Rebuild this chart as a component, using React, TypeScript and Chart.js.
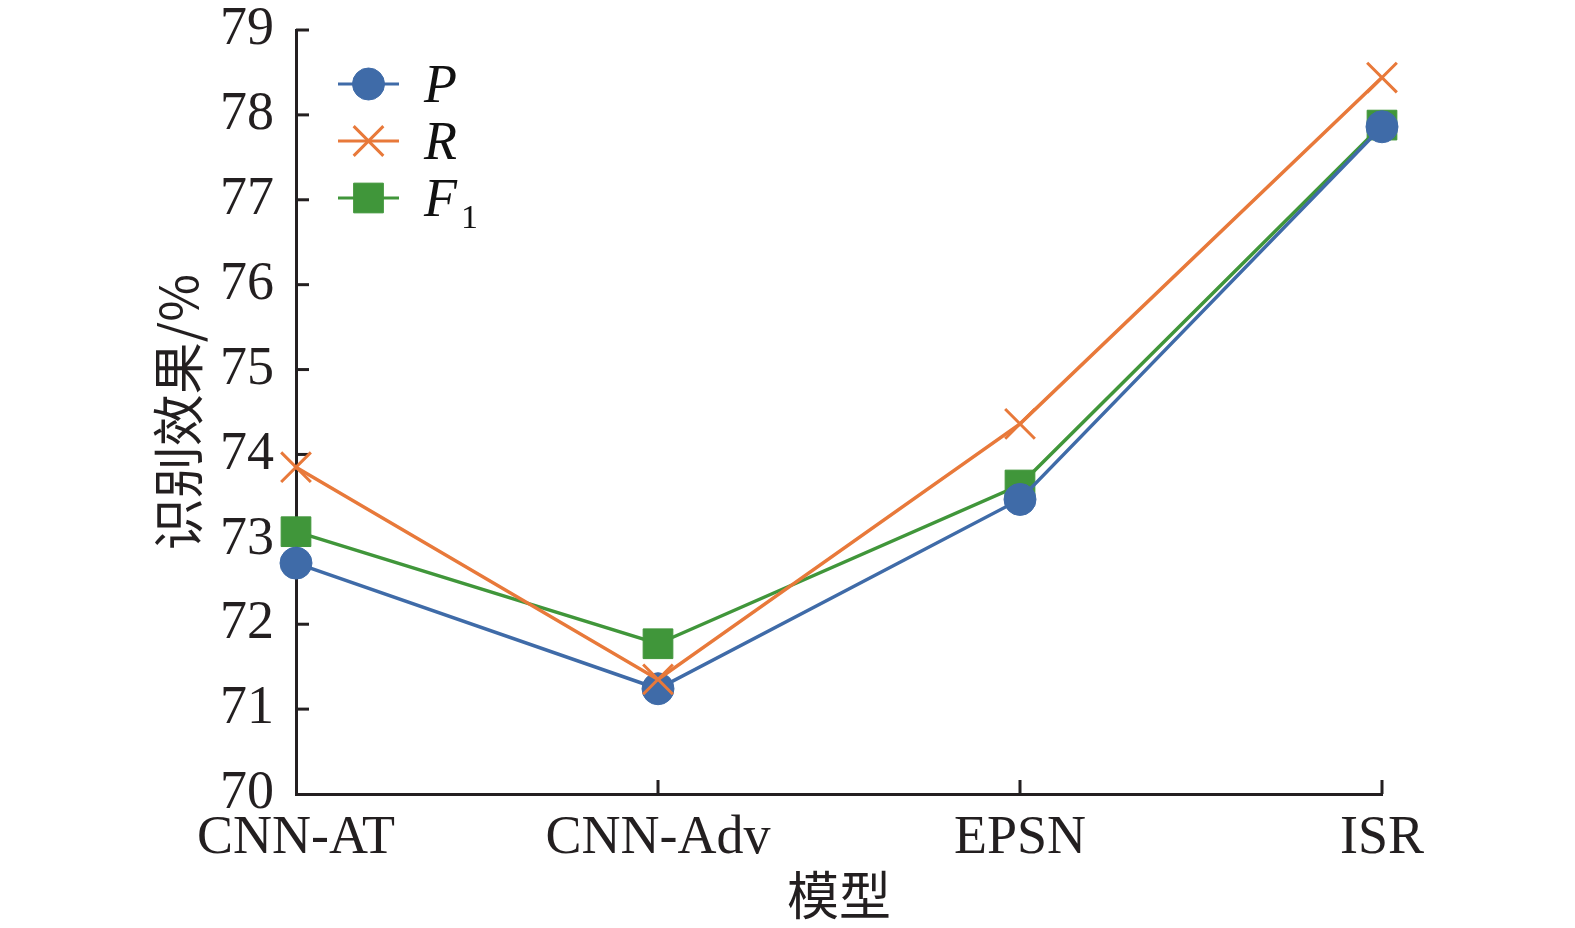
import { useEffect, useRef } from "react"
import { Chart, registerables } from "chart.js"

Chart.register(...registerables)

const models = ["CNN-AT", "CNN-Adv", "EPSN", "ISR"]
const valuesP = [72.72, 71.24, 73.47, 77.86]
const valuesR = [73.85, 71.35, 74.36, 78.44]
const valuesF1 = [73.09, 71.77, 73.64, 77.88]

const yTitle = "识别效果/%"
const xTitle = "模型"

const BLUE = "#3F6BA8"
const ORANGE = "#E8793A"
const GREEN = "#40963A"
const INK = "#231F20"
const SERIF = "'Liberation Serif', 'Times New Roman', serif"
const CJK = "'Noto Sans CJK SC', sans-serif"

// ticks that point into the plot area
const innerTicks = {
  id: "innerTicks",
  beforeDatasetsDraw(chart: Chart) {
    const { ctx, chartArea, scales } = chart
    ctx.save()
    ctx.strokeStyle = INK
    ctx.lineWidth = 3
    const y = scales.y
    for (let i = 1; i < y.ticks.length; i++) {
      const py = y.getPixelForTick(i)
      ctx.beginPath()
      ctx.moveTo(chartArea.left, py)
      ctx.lineTo(chartArea.left + 13, py)
      ctx.stroke()
    }
    const x = scales.x
    for (let i = 1; i < x.ticks.length; i++) {
      const px = x.getPixelForTick(i)
      ctx.beginPath()
      ctx.moveTo(px, chartArea.bottom)
      ctx.lineTo(px, chartArea.bottom - 14)
      ctx.stroke()
    }
    ctx.restore()
  },
}

function drawMarker(ctx: CanvasRenderingContext2D, style: string, r: number, x: number, y: number) {
  ctx.beginPath()
  if (style === "circle") {
    ctx.arc(x, y, r, 0, Math.PI * 2)
    ctx.fill()
    ctx.stroke()
  } else if (style === "rect") {
    const s = r * Math.SQRT1_2
    ctx.rect(x - s, y - s, 2 * s, 2 * s)
    ctx.fill()
    ctx.stroke()
  } else {
    const s = r * Math.SQRT1_2
    ctx.moveTo(x - s, y - s)
    ctx.lineTo(x + s, y + s)
    ctx.moveTo(x - s, y + s)
    ctx.lineTo(x + s, y - s)
    ctx.stroke()
  }
}

// legend with a line through each marker and an F with subscript 1
const lineLegend = {
  id: "lineLegend",
  afterDraw(chart: Chart) {
    const { ctx, chartArea } = chart
    const items = [
      { idx: 0, main: "P", sub: "" },
      { idx: 1, main: "R", sub: "" },
      { idx: 2, main: "F", sub: "1" },
    ]
    ctx.save()
    items.forEach((it, row) => {
      const ds: any = chart.data.datasets[it.idx]
      const cy = chartArea.top + 54 + row * 57
      const x0 = chartArea.left + 42
      const x1 = x0 + 61
      const cx = (x0 + x1) / 2
      ctx.strokeStyle = ds.borderColor
      ctx.lineWidth = 3
      ctx.beginPath()
      ctx.moveTo(x0, cy)
      ctx.lineTo(x1, cy)
      ctx.stroke()
      ctx.fillStyle = ds.pointBackgroundColor
      ctx.strokeStyle = ds.pointBorderColor
      ctx.lineWidth = ds.pointBorderWidth
      drawMarker(ctx, ds.pointStyle, ds.pointRadius, cx, cy)
      ctx.fillStyle = "#111"
      ctx.textBaseline = "alphabetic"
      ctx.textAlign = "left"
      ctx.font = `italic 54px ${SERIF}`
      const base = cy + 18
      ctx.fillText(it.main, x1 + 25, base)
      if (it.sub) {
        const w = ctx.measureText(it.main).width
        ctx.font = `34px ${SERIF}`
        ctx.fillText(it.sub, x1 + 25 + w + 4, base + 12)
      }
    })
    ctx.restore()
  },
}

export default function App() {
  const canvasRef = useRef<HTMLCanvasElement>(null)
  const chartRef = useRef<Chart | null>(null)

  useEffect(() => {
    document.body.style.margin = "0"
    if (!canvasRef.current) return
    if (chartRef.current) chartRef.current.destroy()

    chartRef.current = new Chart(canvasRef.current, {
      type: "line",
      data: {
        labels: models,
        datasets: [
          {
            label: "P",
            data: valuesP,
            borderColor: BLUE,
            borderWidth: 3.5,
            pointStyle: "circle",
            pointRadius: 16,
            pointBackgroundColor: BLUE,
            pointBorderColor: BLUE,
            pointBorderWidth: 1,
            order: 1,
          },
          {
            label: "R",
            data: valuesR,
            borderColor: ORANGE,
            borderWidth: 3.5,
            pointStyle: "crossRot",
            pointRadius: 21,
            pointBackgroundColor: ORANGE,
            pointBorderColor: ORANGE,
            pointBorderWidth: 3,
            order: 0,
          },
          {
            label: "F1",
            data: valuesF1,
            borderColor: GREEN,
            borderWidth: 3.5,
            pointStyle: "rect",
            pointRadius: 21,
            pointBackgroundColor: GREEN,
            pointBorderColor: GREEN,
            pointBorderWidth: 1,
            order: 2,
          },
        ] as any,
      },
      options: {
        responsive: false,
        animation: false,
        layout: { padding: { top: 30, right: 193, left: 0, bottom: 0 } },
        plugins: {
          legend: { display: false },
          tooltip: { enabled: false },
        },
        elements: { line: { tension: 0 } },
        scales: {
          x: {
            offset: false,
            grid: { display: false },
            border: { display: true, color: INK, width: 3 },
            ticks: {
              color: INK,
              padding: 4,
              maxRotation: 0,
              font: { family: SERIF, size: 54 },
            },
            title: {
              display: true,
              text: xTitle,
              color: INK,
              font: { family: CJK, size: 52 },
              padding: { bottom: 2, top: 0 },
            },
            afterFit(scale: any) {
              scale.height = 134
            },
          },
          y: {
            min: 70,
            max: 79,
            grid: { display: false },
            border: { display: true, color: INK, width: 3 },
            ticks: {
              stepSize: 1,
              color: INK,
              padding: 14,
              font: { family: SERIF, size: 54, lineHeight: 1 },
            },
            title: {
              display: true,
              text: yTitle,
              color: INK,
              font: { family: CJK, size: 52 },
              padding: { top: 147, bottom: 0 },
            },
            afterFit(scale: any) {
              scale.width = 296
              scale.paddingTop = 0
              scale.paddingBottom = 0
            },
          },
        },
      },
      plugins: [innerTicks, lineLegend],
    })

    return () => {
      chartRef.current?.destroy()
      chartRef.current = null
    }
  }, [])

  return (
    <div style={{ width: 1575, height: 928 }}>
      <canvas ref={canvasRef} width={1575} height={928}></canvas>
    </div>
  )
}
